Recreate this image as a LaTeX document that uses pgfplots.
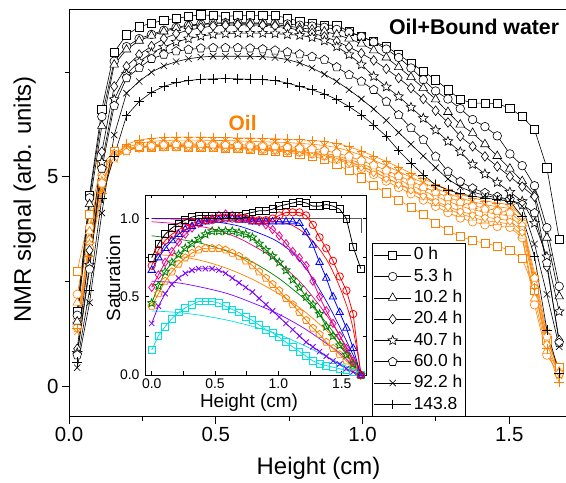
\documentclass[border=0pt]{standalone}
\usepackage{pgfplots}
\pgfplotsset{compat=1.18}
\usepackage{pgfplotstable}
\usepackage{fontspec}
\setmainfont{Liberation Sans}
\definecolor{oilorange}{RGB}{255,128,0}
\definecolor{ingreen}{RGB}{0,128,0}
\definecolor{inviolet}{RGB}{128,0,255}
\definecolor{incyan}{RGB}{0,225,225}
\definecolor{ingray}{RGB}{90,90,90}
\pgfplotsset{/pgf/number format/assume math mode=true}

\pgfdeclareplotmark{ostar}{%
\pgfpathmoveto{\pgfpointpolar{90}{\pgfplotmarksize}}%
\pgfpathlineto{\pgfpointpolar{126}{0.45\pgfplotmarksize}}%
\pgfpathlineto{\pgfpointpolar{162}{\pgfplotmarksize}}%
\pgfpathlineto{\pgfpointpolar{198}{0.45\pgfplotmarksize}}%
\pgfpathlineto{\pgfpointpolar{234}{\pgfplotmarksize}}%
\pgfpathlineto{\pgfpointpolar{270}{0.45\pgfplotmarksize}}%
\pgfpathlineto{\pgfpointpolar{306}{\pgfplotmarksize}}%
\pgfpathlineto{\pgfpointpolar{342}{0.45\pgfplotmarksize}}%
\pgfpathlineto{\pgfpointpolar{18}{\pgfplotmarksize}}%
\pgfpathlineto{\pgfpointpolar{54}{0.45\pgfplotmarksize}}%
\pgfpathclose\pgfusepathqfillstroke}
\pgfdeclareplotmark{ostaro}{%
\pgfpathmoveto{\pgfpointpolar{90}{\pgfplotmarksize}}%
\pgfpathlineto{\pgfpointpolar{126}{0.45\pgfplotmarksize}}%
\pgfpathlineto{\pgfpointpolar{162}{\pgfplotmarksize}}%
\pgfpathlineto{\pgfpointpolar{198}{0.45\pgfplotmarksize}}%
\pgfpathlineto{\pgfpointpolar{234}{\pgfplotmarksize}}%
\pgfpathlineto{\pgfpointpolar{270}{0.45\pgfplotmarksize}}%
\pgfpathlineto{\pgfpointpolar{306}{\pgfplotmarksize}}%
\pgfpathlineto{\pgfpointpolar{342}{0.45\pgfplotmarksize}}%
\pgfpathlineto{\pgfpointpolar{18}{\pgfplotmarksize}}%
\pgfpathlineto{\pgfpointpolar{54}{0.45\pgfplotmarksize}}%
\pgfpathclose\pgfusepathqstroke}

% oil + bound water profiles (black)
\pgfplotstableread{
x s0 s1 s2 s3 s4 s5 s6 s7
0.028 1.80 1.70 1.55 0.90 0.80 0.75 0.45 0.58
0.070 4.57 4.50 4.35 3.25 2.90 2.80 2.00 2.30
0.112 6.62 6.44 6.22 5.60 5.35 5.20 4.14 4.50
0.154 7.98 7.76 7.68 7.16 6.85 6.70 6.00 5.50
0.196 8.39 8.11 8.04 7.64 7.45 7.36 7.00 6.46
0.239 8.58 8.30 8.25 7.92 7.75 7.60 7.28 6.80
0.281 8.67 8.40 8.37 8.12 7.96 7.82 7.50 7.02
0.323 8.74 8.50 8.47 8.30 8.10 7.92 7.65 7.16
0.365 8.78 8.57 8.55 8.42 8.22 8.00 7.75 7.25
0.407 8.83 8.62 8.60 8.50 8.30 8.04 7.82 7.30
0.449 8.87 8.65 8.63 8.56 8.36 8.07 7.86 7.33
0.491 8.85 8.67 8.66 8.60 8.40 8.08 7.88 7.34
0.533 8.83 8.68 8.67 8.62 8.42 8.08 7.88 7.35
0.575 8.85 8.68 8.67 8.63 8.43 8.08 7.88 7.34
0.617 8.85 8.68 8.66 8.63 8.43 8.07 7.88 7.33
0.660 8.85 8.67 8.65 8.62 8.43 8.05 7.87 7.32
0.702 8.85 8.66 8.63 8.60 8.42 8.02 7.85 7.30
0.744 8.79 8.65 8.60 8.56 8.40 7.98 7.80 7.24
0.786 8.71 8.62 8.56 8.50 8.38 7.93 7.72 7.16
0.828 8.67 8.60 8.52 8.43 8.33 7.87 7.60 7.08
0.870 8.62 8.57 8.47 8.35 8.25 7.80 7.45 6.98
0.912 8.62 8.52 8.40 8.24 8.11 7.62 7.28 6.85
0.954 8.47 8.45 8.30 8.10 7.92 7.44 7.08 6.68
0.996 8.35 8.35 8.18 7.95 7.68 7.28 6.86 6.48
1.038 8.23 8.22 8.02 7.78 7.40 7.08 6.62 6.24
1.081 8.11 8.05 7.85 7.58 7.15 6.80 6.35 5.97
1.123 7.92 7.85 7.62 7.36 6.92 6.48 6.06 5.63
1.165 7.72 7.60 7.38 7.12 6.66 6.17 5.78 5.33
1.207 7.52 7.32 7.12 6.86 6.40 5.89 5.50 5.05
1.249 7.32 7.05 6.85 6.58 6.12 5.49 5.22 4.81
1.291 7.08 6.86 6.55 6.30 5.85 5.13 4.95 4.69
1.333 6.85 6.63 6.25 5.97 5.60 4.89 4.76 4.60
1.375 6.76 6.37 6.05 5.73 5.30 4.73 4.64 4.54
1.417 6.76 6.20 5.78 5.49 5.07 4.62 4.56 4.50
1.459 6.75 5.98 5.50 5.25 4.87 4.53 4.50 4.46
1.502 6.64 5.55 5.20 5.01 4.64 4.46 4.45 4.42
1.544 6.44 5.27 4.90 4.77 4.42 4.34 4.30 4.06
1.586 6.13 4.79 4.58 4.53 3.90 4.14 3.40 3.10
1.628 5.22 3.79 3.55 2.86 3.10 2.95 2.20 1.35
1.670 3.52 2.39 2.15 1.11 1.79 1.04 0.95 0.32
}\maindata

% oil profiles (orange)
\pgfplotstableread{
x o0 o1 o2 o3 o4 o5 o6 o7
0.028 2.75 2.20 2.00 1.60 1.50 1.40 1.30 1.40
0.070 4.10 3.80 3.70 3.50 3.40 3.30 3.20 3.10
0.112 5.30 5.20 5.10 5.00 4.90 4.85 4.70 4.60
0.154 5.60 5.55 5.55 5.50 5.45 5.45 5.45 5.50
0.196 5.68 5.65 5.66 5.65 5.62 5.63 5.70 5.78
0.239 5.72 5.70 5.72 5.70 5.70 5.72 5.80 5.88
0.281 5.72 5.72 5.74 5.73 5.74 5.76 5.85 5.92
0.323 5.73 5.72 5.75 5.74 5.76 5.78 5.87 5.94
0.365 5.73 5.72 5.75 5.74 5.77 5.79 5.88 5.95
0.407 5.72 5.71 5.75 5.74 5.77 5.79 5.88 5.95
0.449 5.71 5.71 5.74 5.73 5.77 5.79 5.88 5.95
0.491 5.70 5.70 5.73 5.72 5.76 5.78 5.87 5.94
0.533 5.69 5.69 5.72 5.71 5.75 5.78 5.87 5.94
0.575 5.68 5.68 5.71 5.70 5.74 5.77 5.86 5.93
0.617 5.66 5.67 5.70 5.69 5.73 5.76 5.85 5.93
0.660 5.64 5.66 5.69 5.68 5.72 5.75 5.84 5.92
0.702 5.62 5.64 5.67 5.66 5.70 5.74 5.83 5.91
0.744 5.59 5.62 5.65 5.64 5.68 5.72 5.82 5.90
0.786 5.55 5.59 5.62 5.61 5.65 5.70 5.80 5.89
0.828 5.50 5.55 5.58 5.57 5.62 5.67 5.78 5.87
0.870 5.42 5.50 5.53 5.52 5.57 5.63 5.75 5.85
0.912 5.30 5.42 5.46 5.45 5.50 5.57 5.70 5.80
0.954 5.15 5.32 5.37 5.36 5.42 5.49 5.62 5.72
0.996 4.98 5.20 5.26 5.25 5.32 5.39 5.52 5.62
1.038 4.80 5.06 5.13 5.12 5.20 5.28 5.40 5.50
1.081 4.62 4.90 4.98 4.98 5.07 5.16 5.27 5.37
1.123 4.45 4.75 4.83 4.84 4.94 5.03 5.13 5.23
1.165 4.28 4.60 4.68 4.70 4.80 4.90 4.99 5.09
1.207 4.10 4.45 4.53 4.56 4.67 4.77 4.86 4.96
1.249 3.90 4.30 4.38 4.42 4.54 4.64 4.73 4.83
1.291 3.72 4.15 4.24 4.30 4.42 4.52 4.61 4.70
1.333 3.58 4.02 4.12 4.18 4.31 4.41 4.50 4.59
1.375 3.48 3.93 4.03 4.10 4.22 4.32 4.41 4.50
1.417 3.42 3.86 3.96 4.04 4.16 4.25 4.34 4.43
1.459 3.35 3.82 3.92 4.00 4.11 4.20 4.29 4.38
1.502 3.25 3.80 3.88 3.96 4.07 4.16 4.25 4.34
1.544 3.05 3.55 3.60 3.70 3.80 3.90 3.95 4.05
1.586 2.30 1.95 2.10 2.40 2.50 2.60 2.70 2.35
1.628 1.10 0.75 0.85 1.00 1.15 1.20 1.30 0.90
1.670 0.45 0.30 0.35 0.30 0.35 0.30 0.25 0.10
}\oildata

% saturation (inset)
\pgfplotstableread{
x b r bl m g o p c
0.000 0.75 0.70 0.67 0.56 0.46 0.44 0.33 0.16
0.053 0.84 0.80 0.75 0.64 0.57 0.52 0.44 0.25
0.106 0.90 0.86 0.81 0.72 0.66 0.60 0.52 0.31
0.159 0.94 0.90 0.86 0.79 0.72 0.66 0.58 0.36
0.212 0.97 0.93 0.90 0.85 0.77 0.71 0.62 0.40
0.265 0.99 0.95 0.93 0.90 0.81 0.75 0.65 0.43
0.318 1.01 0.97 0.95 0.94 0.84 0.78 0.67 0.45
0.371 1.02 0.98 0.97 0.97 0.87 0.80 0.68 0.47
0.424 1.02 0.99 0.98 0.99 0.90 0.81 0.68 0.47
0.477 1.02 0.99 0.99 1.00 0.92 0.81 0.68 0.47
0.530 1.02 1.00 0.99 1.02 0.92 0.81 0.67 0.46
0.583 1.02 1.00 1.00 1.03 0.92 0.80 0.65 0.44
0.636 1.02 1.00 1.00 1.02 0.92 0.78 0.62 0.42
0.689 1.02 1.00 0.99 1.01 0.91 0.76 0.59 0.40
0.742 1.03 1.00 0.99 1.00 0.90 0.73 0.56 0.37
0.795 1.04 0.99 0.98 0.99 0.88 0.70 0.53 0.35
0.848 1.05 0.99 0.98 0.98 0.84 0.66 0.49 0.32
0.901 1.05 0.99 0.98 0.96 0.80 0.62 0.45 0.29
0.954 1.06 1.00 0.98 0.93 0.76 0.58 0.41 0.27
1.007 1.08 1.02 0.98 0.89 0.72 0.54 0.37 0.24
1.060 1.09 1.04 0.98 0.84 0.67 0.49 0.33 0.21
1.113 1.10 1.04 0.98 0.79 0.61 0.45 0.29 0.18
1.166 1.11 1.04 0.97 0.75 0.56 0.40 0.25 0.15
1.219 1.10 1.02 0.91 0.70 0.50 0.35 0.21 0.12
1.272 1.08 0.96 0.83 0.60 0.45 0.30 0.18 0.09
1.325 1.08 0.88 0.72 0.50 0.39 0.26 0.15 0.07
1.378 1.09 0.81 0.62 0.41 0.31 0.21 0.12 0.06
1.431 1.08 0.73 0.50 0.33 0.25 0.17 0.09 0.05
1.484 1.06 0.63 0.40 0.25 0.19 0.13 0.07 0.04
1.537 1.00 0.54 0.30 0.17 0.13 0.09 0.04 0.03
1.590 0.82 0.39 0.17 0.09 0.07 0.05 0.02 0.02
1.650 0.68 0.00 0.00 0.00 0.00 0.00 0.00 0.00
}\satdata

\begin{document}
\begin{tikzpicture}
\begin{axis}[
  name=main, at={(0,0)}, anchor=south west,
  scale only axis, width=499bp, height=407.4bp,
  xmin=0, xmax=1.7, ymin=-0.72, ymax=9.0,
  axis line style={line width=0.9bp},
  every tick/.style={black, line width=0.9bp},
  tick align=outside, tick pos=left,
  major tick length=7bp, minor tick length=4bp,
  xtick={0,0.5,1,1.5}, minor xtick={0.25,0.75,1.25},
  ytick={0,5}, minor ytick={2.5,7.5},
  xticklabel style={/pgf/number format/fixed, /pgf/number format/fixed zerofill, /pgf/number format/precision=1},
  ticklabel style={font=\fontsize{20.5}{24}\selectfont},
  xlabel={Height (cm)}, ylabel={NMR signal (arb. units)},
  label style={font=\fontsize{24}{28}\selectfont},
  xlabel style={at={(axis description cs:0.5,-0.1414)}, anchor=base},
  ylabel style={at={(axis description cs:-0.0762,0.533)}, anchor=base},
  legend cell align=left,
  legend image code/.code={\draw[mark repeat=2,mark phase=2] plot coordinates {(0bp,0bp) (18.8bp,0bp) (37.6bp,0bp)};},
  legend style={at={(axis description cs:0.6078,0.4256)}, anchor=north west,
    draw=black, line width=0.6bp, fill=white, inner sep=1bp,
    font=\fontsize{17.5}{21}\selectfont,
    nodes={inner sep=2bp, text height=13.3bp, text depth=4bp},
    /tikz/every even column/.append style={column sep=3bp}},
]
% oil (orange)
\addplot[forget plot, oilorange, line width=0.6bp, mark=square*, mark size=4.1bp, mark options={fill=white}] table[x=x,y=o0]{\oildata};
\addplot[forget plot, oilorange, line width=0.6bp, mark=*, mark size=4.3bp, mark options={fill=white}] table[x=x,y=o1]{\oildata};
\addplot[forget plot, oilorange, line width=0.6bp, mark=triangle*, mark size=5bp, mark options={fill=white}] table[x=x,y=o2]{\oildata};
\addplot[forget plot, oilorange, line width=0.6bp, mark=diamond*, mark size=4.8bp, mark options={fill=white}] table[x=x,y=o3]{\oildata};
\addplot[forget plot, oilorange, line width=0.6bp, mark=ostar, mark size=5bp, mark options={fill=white}] table[x=x,y=o4]{\oildata};
\addplot[forget plot, oilorange, line width=0.6bp, mark=pentagon*, mark size=4.6bp, mark options={fill=white}] table[x=x,y=o5]{\oildata};
\addplot[forget plot, oilorange, line width=0.6bp, mark=x, mark size=4.5bp] table[x=x,y=o6]{\oildata};
\addplot[forget plot, oilorange, line width=0.6bp, mark=+, mark size=4.8bp] table[x=x,y=o7]{\oildata};
% oil + bound water (black)
\addplot[black, line width=0.6bp, mark=square*, mark size=4.1bp, mark options={fill=white}] table[x=x,y=s0]{\maindata};
\addlegendentry{0 h}
\addplot[black, line width=0.6bp, mark=*, mark size=4.3bp, mark options={fill=white}] table[x=x,y=s1]{\maindata};
\addlegendentry{5.3 h}
\addplot[black, line width=0.6bp, mark=triangle*, mark size=5bp, mark options={fill=white}] table[x=x,y=s2]{\maindata};
\addlegendentry{10.2 h}
\addplot[black, line width=0.6bp, mark=diamond*, mark size=4.8bp, mark options={fill=white}] table[x=x,y=s3]{\maindata};
\addlegendentry{20.4 h}
\addplot[black, line width=0.6bp, mark=ostar, mark size=5bp, mark options={fill=white}] table[x=x,y=s4]{\maindata};
\addlegendentry{40.7 h}
\addplot[black, line width=0.6bp, mark=pentagon*, mark size=4.6bp, mark options={fill=white}] table[x=x,y=s5]{\maindata};
\addlegendentry{60.0 h}
\addplot[black, line width=0.6bp, mark=x, mark size=4.5bp] table[x=x,y=s6]{\maindata};
\addlegendentry{92.2 h}
\addplot[black, line width=0.6bp, mark=+, mark size=4.8bp] table[x=x,y=s7]{\maindata};
\addlegendentry{143.8}
\node[anchor=base west, inner sep=0pt, font=\fontsize{21.4}{24}\selectfont\bfseries] at (axis cs:1.090,8.387) {Oil+Bound water};
\node[anchor=base west, inner sep=0pt, text=oilorange, font=\fontsize{21}{24}\selectfont\bfseries] at (axis cs:0.5434,6.115) {Oil};
\end{axis}

\begin{axis}[
  name=inset, at={(76bp,41.7bp)}, anchor=south west,
  scale only axis, width=221.7bp, height=180bp,
  xmin=-0.053, xmax=1.697, ymin=0, ymax=1.151,
  axis background/.style={fill=white},
  axis line style={line width=0.8bp},
  every tick/.style={black, line width=0.7bp},
  tick align=inside, tick pos=both,
  major tick length=3.5bp, minor tick length=3.5bp,
  xtick={0,0.5,1,1.5}, minor xtick={0.25,0.75,1.25},
  ytick={0,0.5,1}, minor ytick={0.25,0.75},
  ticklabel style={font=\fontsize{14}{16}\selectfont},
  xticklabel style={/pgf/number format/fixed, /pgf/number format/fixed zerofill, /pgf/number format/precision=1},
  yticklabel style={/pgf/number format/fixed, /pgf/number format/fixed zerofill, /pgf/number format/precision=1, xshift=-2bp},
  xlabel={Height (cm)}, ylabel={Saturation},
  label style={font=\fontsize{19}{22}\selectfont},
  xlabel style={at={(axis description cs:0.469,-0.1833)}, anchor=base},
  ylabel style={at={(axis description cs:-0.112,0.537)}, anchor=base},
]
% fitted curves
\addplot[ingray, line width=0.8bp] coordinates {(0,1.0) (1.655,1.0) (1.655,0.91)};
\addplot[red, line width=0.7bp, smooth] coordinates {(0,1.0) (0.4,1.0) (0.8,0.995) (1.0,0.98) (1.1,0.96) (1.2,0.91) (1.3,0.83) (1.4,0.71) (1.5,0.53) (1.58,0.33) (1.655,0)};
\addplot[blue, line width=0.7bp, smooth] coordinates {(0,1.0) (0.3,0.995) (0.5,0.98) (0.7,0.95) (0.9,0.89) (1.0,0.85) (1.1,0.79) (1.2,0.70) (1.3,0.58) (1.4,0.44) (1.5,0.28) (1.6,0.11) (1.655,0)};
\addplot[magenta, line width=0.7bp, smooth] coordinates {(0,0.98) (0.3,0.96) (0.5,0.93) (0.7,0.87) (0.9,0.78) (1.0,0.72) (1.1,0.65) (1.2,0.57) (1.3,0.47) (1.4,0.36) (1.5,0.23) (1.6,0.09) (1.655,0)};
\addplot[ingreen, line width=0.7bp, smooth] coordinates {(0,0.89) (0.2,0.87) (0.4,0.84) (0.6,0.79) (0.8,0.72) (1.0,0.62) (1.2,0.49) (1.3,0.41) (1.4,0.31) (1.5,0.20) (1.6,0.08) (1.655,0)};
\addplot[oilorange, line width=0.7bp, smooth] coordinates {(0,0.77) (0.2,0.76) (0.4,0.73) (0.6,0.68) (0.8,0.61) (1.0,0.52) (1.2,0.41) (1.4,0.27) (1.5,0.18) (1.6,0.07) (1.655,0)};
\addplot[inviolet, line width=0.7bp, smooth] coordinates {(0,0.60) (0.2,0.59) (0.4,0.56) (0.6,0.52) (0.8,0.46) (1.0,0.39) (1.2,0.30) (1.4,0.19) (1.5,0.13) (1.6,0.05) (1.655,0)};
\addplot[incyan, line width=0.7bp, smooth] coordinates {(0,0.41) (0.2,0.40) (0.4,0.38) (0.6,0.35) (0.8,0.31) (1.0,0.26) (1.2,0.19) (1.4,0.11) (1.5,0.07) (1.6,0.03) (1.655,0)};
% data
\addplot[incyan, line width=0.8bp, mark=square, mark size=3.4bp] table[x=x,y=c]{\satdata};
\addplot[inviolet, line width=0.8bp, mark=x, mark size=3.8bp] table[x=x,y=p]{\satdata};
\addplot[oilorange, line width=0.8bp, mark=pentagon, mark size=3.9bp] table[x=x,y=o]{\satdata};
\addplot[ingreen, line width=0.8bp, mark=ostaro, mark size=4.3bp] table[x=x,y=g]{\satdata};
\addplot[magenta, line width=0.8bp, mark=diamond, mark size=4.1bp] table[x=x,y=m]{\satdata};
\addplot[blue, line width=0.8bp, mark=triangle, mark size=4.3bp] table[x=x,y=bl]{\satdata};
\addplot[red, line width=0.8bp, mark=o, mark size=3.7bp] table[x=x,y=r]{\satdata};
\addplot[black, line width=0.8bp, mark=square, mark size=3.4bp] table[x=x,y=b]{\satdata};
\end{axis}
\pgfresetboundingbox
\path[use as bounding box] (-69bp,-66.3bp) rectangle (497bp,416.7bp);
\end{tikzpicture}
\end{document}
